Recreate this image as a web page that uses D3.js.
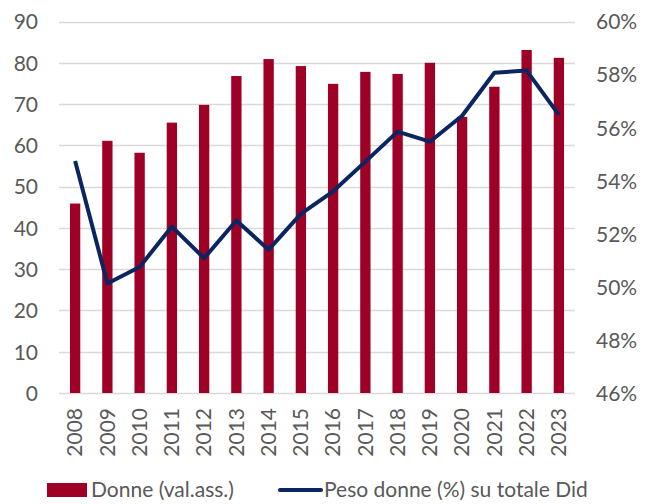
<!DOCTYPE html>
<html>
<head>
<meta charset="utf-8">
<script src="https://cdn.jsdelivr.net/npm/d3@7"></script>
<style>
  body { margin: 0; background: #fff; }
  text { font-family: Lato, "Open Sans", sans-serif; fill: #595959; }
</style>
</head>
<body>
<div id="chart"></div>
<script>
const years = ['2008', '2009', '2010', '2011', '2012', '2013', '2014', '2015',
  '2016', '2017', '2018', '2019', '2020', '2021', '2022', '2023'];
const donne = [45.9, 61.1, 58.2, 65.5, 69.8, 76.8, 80.9, 79.2,
  74.9, 77.8, 77.3, 80.0, 66.9, 74.2, 83.1, 81.2];
const pesoDonne = [54.74, 50.13, 50.75, 52.27, 51.08, 52.5, 51.4, 52.75,
  53.6, 54.72, 55.85, 55.47, 56.45, 58.07, 58.15, 56.48];
const leftTicks = [0, 10, 20, 30, 40, 50, 60, 70, 80, 90];
const rightTicks = [46, 48, 50, 52, 54, 56, 58, 60];

const width = 649;
const height = 504;
const margin = { top: 21.5, right: 74, bottom: 111, left: 59 };
const fontSize = 21;

const svg = d3.select('#chart').append('svg')
  .attr('width', width)
  .attr('height', height);

const x = d3.scaleBand()
  .domain(years)
  .range([margin.left, width - margin.right])
  .paddingInner(0.68)
  .paddingOuter(0.34);

const yLeft = d3.scaleLinear()
  .domain([0, 90])
  .range([height - margin.bottom, margin.top]);

const yRight = d3.scaleLinear()
  .domain([46, 60])
  .range([height - margin.bottom, margin.top]);

// gridlines
svg.append('g')
  .selectAll('line')
  .data(leftTicks)
  .join('line')
  .attr('x1', margin.left)
  .attr('x2', width - margin.right)
  .attr('y1', (d) => Math.round(yLeft(d)) + 0.5)
  .attr('y2', (d) => Math.round(yLeft(d)) + 0.5)
  .attr('stroke', '#d9d9d9')
  .attr('stroke-width', 1.3);

// left axis labels
const leftAxis = svg.append('g')
  .attr('transform', `translate(${margin.left - 21},0)`)
  .call(d3.axisLeft(yLeft).tickValues(leftTicks).tickSize(0).tickPadding(0));
leftAxis.select('.domain').remove();
leftAxis.selectAll('text')
  .attr('font-size', fontSize)
  .attr('dy', '0.35em');

// right axis labels
const rightAxis = svg.append('g')
  .attr('transform', `translate(${width - margin.right + 21},0)`)
  .call(d3.axisRight(yRight).tickValues(rightTicks).tickSize(0).tickPadding(0)
    .tickFormat((d) => `${d}%`));
rightAxis.select('.domain').remove();
rightAxis.selectAll('text')
  .attr('font-size', fontSize)
  .attr('dy', '0.35em');

// bars
svg.append('g')
  .selectAll('rect')
  .data(donne)
  .join('rect')
  .attr('x', (d, i) => x(years[i]))
  .attr('y', (d) => yLeft(d))
  .attr('width', x.bandwidth())
  .attr('height', (d) => yLeft(0) - yLeft(d))
  .attr('fill', '#9e0026');

// line
const line = d3.line()
  .x((d, i) => x(years[i]) + x.bandwidth() / 2)
  .y((d) => yRight(d));

svg.append('path')
  .datum(pesoDonne)
  .attr('d', line)
  .attr('fill', 'none')
  .attr('stroke', '#0b2563')
  .attr('stroke-width', 4)
  .attr('stroke-linejoin', 'round');

// year labels, rotated
const xAxis = svg.append('g')
  .attr('transform', `translate(0,${height - margin.bottom})`)
  .call(d3.axisBottom(x).tickSize(0).tickPadding(0));
xAxis.select('.domain').remove();
xAxis.selectAll('text')
  .attr('font-size', fontSize)
  .attr('text-anchor', 'end')
  .attr('transform', 'translate(0,15) rotate(-90)')
  .attr('x', 0)
  .attr('y', 0)
  .attr('dy', '0.35em');

// legend
const legend = svg.append('g').attr('transform', 'translate(0,490)');
legend.append('rect')
  .attr('x', 47)
  .attr('y', -7)
  .attr('width', 40)
  .attr('height', 14)
  .attr('fill', '#9e0026');
legend.append('text')
  .attr('x', 91)
  .attr('y', 0)
  .attr('dy', '0.35em')
  .attr('font-size', fontSize)
  .text('Donne (val.ass.)');
legend.append('line')
  .attr('x1', 280)
  .attr('x2', 321)
  .attr('y1', 0)
  .attr('y2', 0)
  .attr('stroke', '#0b2563')
  .attr('stroke-width', 4)
  .attr('stroke-linecap', 'round');
legend.append('text')
  .attr('x', 324)
  .attr('y', 0)
  .attr('dy', '0.35em')
  .attr('font-size', fontSize)
  .text('Peso donne (%) su totale Did');
</script>
</body>
</html>
